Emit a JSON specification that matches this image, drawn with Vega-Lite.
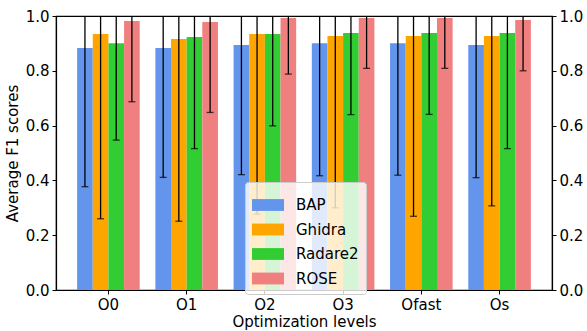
{
  "$schema": "https://vega.github.io/schema/vega-lite/v6.json",
  "width": 496,
  "height": 274,
  "padding": {"left": 5, "top": 9, "right": 0, "bottom": 5},
  "background": "white",
  "config": {
    "font": "DejaVu Sans",
    "view": {"stroke": "black", "strokeWidth": 1.2},
    "axis": {
      "domainColor": "black",
      "domainWidth": 1.2,
      "tickColor": "black",
      "tickWidth": 1,
      "tickSize": 4,
      "labelColor": "black",
      "labelFontSize": 15,
      "labelFont": "DejaVu Sans",
      "titleFont": "DejaVu Sans",
      "titleFontSize": 15,
      "titleFontWeight": "normal",
      "titleColor": "black",
      "grid": false
    }
  },
  "data": {
    "values": [
      {"level": "O0", "tool": "BAP", "mean": 0.883, "lo": 0.377, "hi": 1.389},
      {"level": "O0", "tool": "Ghidra", "mean": 0.934, "lo": 0.260, "hi": 1.608},
      {"level": "O0", "tool": "Radare2", "mean": 0.901, "lo": 0.547, "hi": 1.255},
      {"level": "O0", "tool": "ROSE", "mean": 0.982, "lo": 0.687, "hi": 1.277},
      {"level": "O1", "tool": "BAP", "mean": 0.883, "lo": 0.411, "hi": 1.355},
      {"level": "O1", "tool": "Ghidra", "mean": 0.916, "lo": 0.251, "hi": 1.581},
      {"level": "O1", "tool": "Radare2", "mean": 0.923, "lo": 0.516, "hi": 1.330},
      {"level": "O1", "tool": "ROSE", "mean": 0.978, "lo": 0.648, "hi": 1.308},
      {"level": "O2", "tool": "BAP", "mean": 0.894, "lo": 0.421, "hi": 1.367},
      {"level": "O2", "tool": "Ghidra", "mean": 0.934, "lo": 0.277, "hi": 1.591},
      {"level": "O2", "tool": "Radare2", "mean": 0.934, "lo": 0.599, "hi": 1.269},
      {"level": "O2", "tool": "ROSE", "mean": 0.993, "lo": 0.788, "hi": 1.198},
      {"level": "O3", "tool": "BAP", "mean": 0.901, "lo": 0.417, "hi": 1.385},
      {"level": "O3", "tool": "Ghidra", "mean": 0.927, "lo": 0.300, "hi": 1.554},
      {"level": "O3", "tool": "Radare2", "mean": 0.938, "lo": 0.640, "hi": 1.236},
      {"level": "O3", "tool": "ROSE", "mean": 0.993, "lo": 0.809, "hi": 1.177},
      {"level": "Ofast", "tool": "BAP", "mean": 0.901, "lo": 0.419, "hi": 1.383},
      {"level": "Ofast", "tool": "Ghidra", "mean": 0.927, "lo": 0.269, "hi": 1.585},
      {"level": "Ofast", "tool": "Radare2", "mean": 0.938, "lo": 0.641, "hi": 1.235},
      {"level": "Ofast", "tool": "ROSE", "mean": 0.993, "lo": 0.809, "hi": 1.177},
      {"level": "Os", "tool": "BAP", "mean": 0.894, "lo": 0.410, "hi": 1.378},
      {"level": "Os", "tool": "Ghidra", "mean": 0.927, "lo": 0.307, "hi": 1.547},
      {"level": "Os", "tool": "Radare2", "mean": 0.938, "lo": 0.516, "hi": 1.360},
      {"level": "Os", "tool": "ROSE", "mean": 0.985, "lo": 0.800, "hi": 1.170}
    ]
  },
  "encoding": {
    "x": {
      "field": "level", "type": "nominal", "sort": null,
      "scale": {"paddingInner": 0.2, "paddingOuter": 0.27},
      "axis": {"title": "Optimization levels", "labelAngle": 0, "labelPadding": 3, "titlePadding": 2}
    },
    "xOffset": {
      "field": "tool", "type": "nominal", "sort": ["BAP", "Ghidra", "Radare2", "ROSE"],
      "scale": {"paddingInner": 0, "paddingOuter": 0}
    }
  },
  "layer": [
    {
      "mark": {"type": "bar"},
      "encoding": {
        "y": {
          "field": "mean", "type": "quantitative",
          "scale": {"domain": [0, 1], "nice": false, "zero": true},
          "axis": {"title": "Average F1 scores", "tickCount": 6, "format": ".1f", "titlePadding": 5, "labelPadding": 3}
        },
        "color": {
          "field": "tool", "type": "nominal", "sort": ["BAP", "Ghidra", "Radare2", "ROSE"],
          "scale": {"domain": ["BAP", "Ghidra", "Radare2", "ROSE"], "range": ["#6495ED", "#FFA500", "#32CD32", "#F08080"]},
          "legend": {
            "title": null,
            "orient": "none",
            "legendX": 189,
            "legendY": 166,
            "symbolType": "M-1,-0.37H1V0.37H-1Z",
            "symbolSize": 1024,
            "symbolStrokeWidth": 0,
            "symbolOpacity": 1,
            "labelFontSize": 15,
            "labelFont": "DejaVu Sans",
            "labelColor": "black",
            "labelOffset": 12,
            "rowPadding": 0.5,
            "padding": 7,
            "fillColor": "rgba(255,255,255,0.8)",
            "strokeColor": "#cccccc",
            "cornerRadius": 3
          }
        }
      }
    },
    {
      "mark": {"type": "rule", "color": "black", "strokeWidth": 1.3, "clip": true},
      "encoding": {
        "y": {"field": "lo", "type": "quantitative", "axis": null},
        "y2": {"field": "hi"}
      }
    },
    {
      "mark": {"type": "tick", "color": "black", "size": 7, "thickness": 1.3, "orient": "horizontal"},
      "encoding": {
        "y": {
          "field": "lo", "type": "quantitative",
          "axis": {"orient": "right", "title": null, "tickCount": 6, "format": ".1f", "labelPadding": 3}
        }
      }
    }
  ],
  "resolve": {"axis": {"y": "independent"}}
}
